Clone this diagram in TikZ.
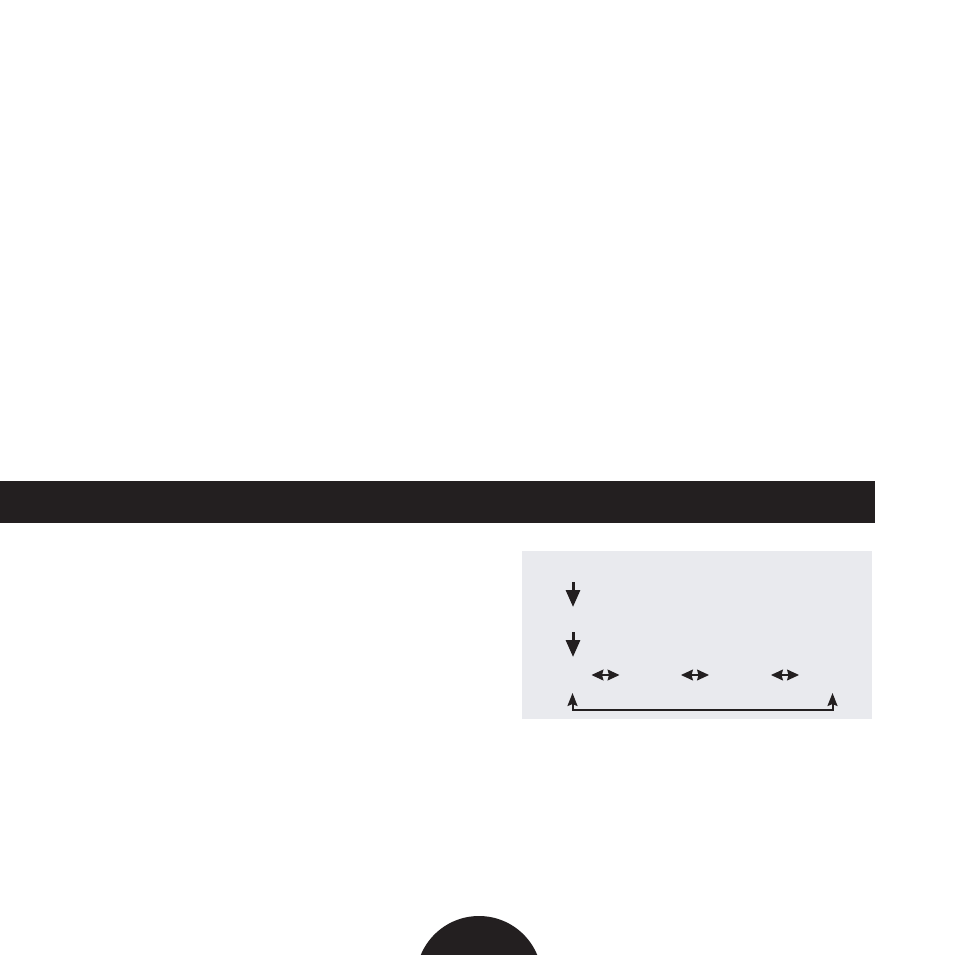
\documentclass[tikz,border=0pt]{standalone}
\usetikzlibrary{arrows.meta}
\definecolor{inkblack}{HTML}{231F20}
\definecolor{panelgray}{HTML}{E9EAEE}
\begin{document}
\begin{tikzpicture}[x=1pt,y=-1pt,
  downarrow/.style={draw=inkblack,line width=3pt,-{Triangle[length=17pt,width=14pt]}},
  twoway/.style={draw=inkblack,line width=1.2pt,{Stealth[length=12pt,width=11pt,inset=1.5pt]}-{Stealth[length=12pt,width=11pt,inset=1.5pt]}},
  upbracket/.style={draw=inkblack,line width=2pt,{Stealth[length=13pt,width=10pt,inset=2pt]}-{Stealth[length=13pt,width=10pt,inset=2pt]}}]
\useasboundingbox (0,0) rectangle (955,955);
\clip (0,0) rectangle (955,955);
\fill[white] (0,0) rectangle (955,955);
% black title bar
\fill[inkblack] (0,481) rectangle (875,523);
% gray panel
\fill[panelgray] (522,551) rectangle (872,719);
% down arrows
\coordinate (d1s) at (573,582);
\coordinate (d1e) at (573,607);
\coordinate (d2s) at (573,632);
\coordinate (d2e) at (573,657);
\draw[downarrow] (d1s) -- (d1e);
\draw[downarrow] (d2s) -- (d2e);
% double arrows
\coordinate (a1l) at (591.5,675);
\coordinate (a1r) at (619.5,675);
\coordinate (a2l) at (681,675);
\coordinate (a2r) at (709,675);
\coordinate (a3l) at (771,675);
\coordinate (a3r) at (799,675);
\draw[twoway] (a1l) -- (a1r);
\draw[twoway] (a2l) -- (a2r);
\draw[twoway] (a3l) -- (a3r);
% bottom bracket
\coordinate (bl) at (572.5,693);
\coordinate (br) at (832.5,693);
\draw[upbracket] (bl) -- (572.5,710) -- (832.5,710) -- (br);
% circle at bottom
\fill[inkblack] (479,979) circle[radius=63];
\end{tikzpicture}
\end{document}
